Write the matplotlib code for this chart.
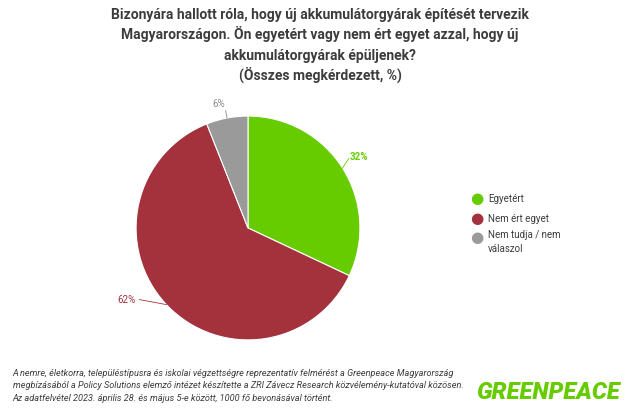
import matplotlib.pyplot as plt
import numpy as np

plt.rcParams['font.family'] = ['Roboto', 'DejaVu Sans']

labels = ['Egyetért', 'Nem ért egyet', 'Nem tudja / nem\nválaszol']
values = [32, 62, 6]
colors = ['#66cc00', '#a3323c', '#9a9a9a']
label_colors = ['#66cc00', '#a3323c', '#8a8a8a']

title_lines = ['Bizonyára hallott róla, hogy új akkumulátorgyárak építését tervezik',
               'Magyarországon. Ön egyetért vagy nem ért egyet azzal, hogy új',
               'akkumulátorgyárak épüljenek?',
               '(Összes megkérdezett, %)']

W, H = 640, 413
fig = plt.figure(figsize=(6.4, 4.13), dpi=100)
fig.patch.set_facecolor('white')

# title, one line at a time so the spacing stays even
for i, line in enumerate(title_lines):
    fig.text(0.5, 1 - (19 + 20.3 * i) / H, line, ha='center', va='baseline',
             fontsize=10.0, fontweight='bold', color='#3c3c3c')

# pie
ax = fig.add_axes([0.3875 - 0.175, 0.448 - 0.271, 0.35, 0.542])
wedges, _ = ax.pie(values, colors=colors, startangle=90, counterclock=False,
                   radius=1.0, wedgeprops=dict(edgecolor='white', linewidth=0.8))
ax.set_xlim(-1, 1)
ax.set_ylim(-1, 1)
ax.set_aspect('equal')

# percentage labels with leader lines (text placement per slice)
offsets = [(0.91, 0.63, 'left'), (-1.0, -0.64, 'right'), (-0.26, 1.11, 'center')]
for w, v, c, (tx, ty, ha) in zip(wedges, values, label_colors, offsets):
    ang = np.deg2rad((w.theta1 + w.theta2) / 2)
    x0, y0 = np.cos(ang), np.sin(ang)
    if ha == 'left':
        ex, ey = tx - 0.01, ty - 0.01
    elif ha == 'right':
        ex, ey = tx + 0.03, ty + 0.0
    else:
        ex, ey = tx + 0.06, ty - 0.06
    ax.plot([x0, ex], [y0, ey], color=c, lw=0.6, clip_on=False)
    ax.text(tx, ty, f'{v}%', color=c, fontsize=7, ha=ha, va='center',
            fontweight='bold' if v == 32 else 'normal')

# legend
mk_x = 477 / W
tx_x = 488 / W
leg_y = [199, 219, 238]
for y, lab, c in zip(leg_y, labels, colors):
    fy = 1 - y / H
    fig.text(mk_x, fy, '●', color=c, fontsize=11, ha='center', va='center')
    if '\n' in lab:
        fig.text(tx_x, fy + 0.019, lab, color='#3c3c3c', fontsize=7.0,
                 ha='left', va='top', linespacing=1.45)
    else:
        fig.text(tx_x, fy, lab, color='#3c3c3c', fontsize=7.0,
                 ha='left', va='center')

note = ('A nemre, életkorra, településtípusra és iskolai végzettségre reprezentatív felmérést a Greenpeace Magyarország\n'
        'megbízásából a Policy Solutions elemző intézet készítette a ZRI Závecz Research közvélemény-kutatóval közösen.\n'
        'Az adatfelvétel 2023. április 28. és május 5-e között, 1000 fő bevonásával történt.')
fig.text(0.02, 1 - 369 / H, note, ha='left', va='top', fontsize=6.6, style='italic',
         color='#3c3c3c', linespacing=1.5)

fig.text(548 / W, 1 - 392.5 / H, 'GREENPEACE', ha='center', va='center', fontsize=17,
         fontweight='heavy', style='italic', color='#66cc00')

fig.savefig('out.png', dpi=100, facecolor='white')
